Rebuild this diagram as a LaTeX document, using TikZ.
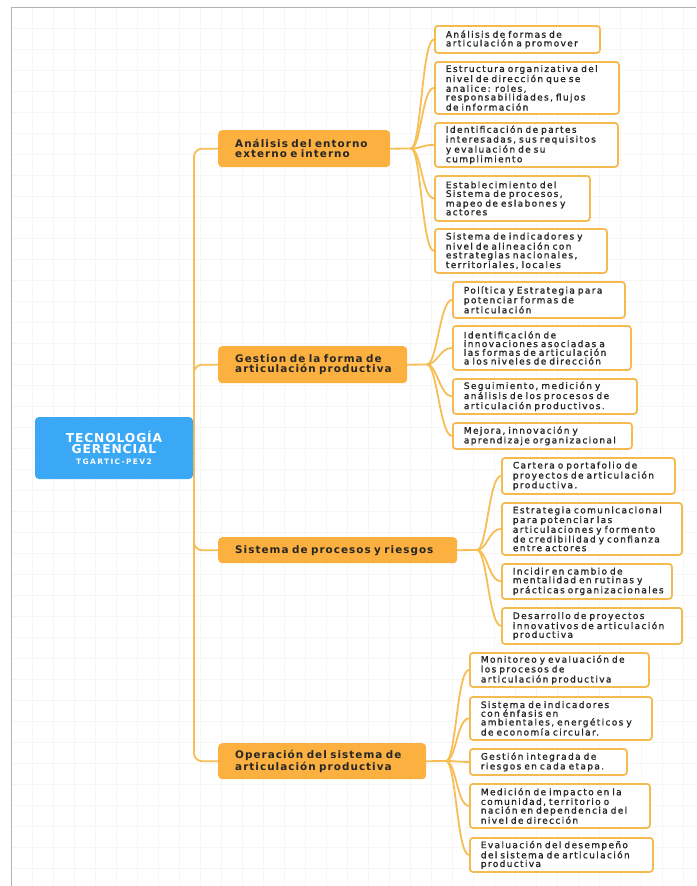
\documentclass[tikz,border=0pt]{standalone}
\usepackage{fontspec}
\setmainfont{DejaVu Sans}
\newfontfamily\leaffont[LetterSpace=15,FakeBold=1.3]{DejaVu Sans}
\newfontfamily\lonefont[LetterSpace=10]{DejaVu Sans}
\newfontfamily\rootfont[LetterSpace=7]{DejaVu Sans}
\newfontfamily\rootsub[LetterSpace=18]{DejaVu Sans}
\definecolor{rootc}{RGB}{58,168,245}
\definecolor{lonec}{RGB}{251,176,64}
\definecolor{leafc}{RGB}{245,187,80}
\definecolor{connc}{RGB}{247,190,85}
\definecolor{txtc}{RGB}{38,38,38}
\definecolor{gridc}{RGB}{246,246,246}
\definecolor{framec}{RGB}{180,180,180}
\pgfdeclarelayer{bg}
\pgfsetlayers{bg,main}
\tikzset{
  leafbox/.style={draw=leafc, line width=1.8pt, fill=white, rounded corners=3pt,
    anchor=north west, inner xsep=11pt, inner ysep=0pt, align=left, text=txtc,
    font=\leaffont\fontsize{9}{8.7}\selectfont},
  lonebox/.style={fill=lonec, rounded corners=4pt, anchor=north west,
    inner xsep=17pt, inner ysep=0pt, align=left, text=txtc,
    font=\lonefont\bfseries\fontsize{10.4}{10.2}\selectfont},
  rootbox/.style={fill=rootc, rounded corners=4pt, text=white, align=center,
    inner sep=0pt, minimum width=158pt, minimum height=62pt, text width=150pt},
  conn/.style={draw=connc, line width=1.8pt, line cap=round},
  gridline/.style={draw=gridc, line width=0.6pt},
  framel/.style={draw=framec, line width=0.9pt}
}
\begin{document}
\begin{tikzpicture}[x=1pt,y=-1pt]
\useasboundingbox (0,0) rectangle (696,886);
\begin{pgfonlayer}{bg}
\fill[white] (0,0) rectangle (696,886);
\foreach \gx in {32,53,...,696} \draw[gridline] (\gx,7) -- (\gx,886);
\foreach \gy in {28,49,...,886} \draw[gridline] (11,\gy) -- (696,\gy);
\draw[framel] (11,886) -- (11,7) -- (696,7);
\end{pgfonlayer}

% root
\node[rootbox] (root) at (114,448) {\rootfont\bfseries\fontsize{12.3}{11}\selectfont TECNOLOGÍA\\GERENCIAL\\[-1pt]\rootsub\bfseries\fontsize{7.5}{11}\selectfont TGARTIC-PEV2};

% level 1
\node[lonebox, minimum width=172pt, minimum height=37pt, text width=138pt] (A) at (218,130) {Análisis del entorno\\externo e interno};
\node[lonebox, minimum width=189pt, minimum height=37pt, text width=155pt] (B) at (218,346) {Gestion de la forma de\\articulación productiva};
\node[lonebox, minimum width=239pt, minimum height=26pt, text width=205pt] (C) at (218,537) {Sistema de procesos y riesgos};
\node[lonebox, minimum width=208pt, minimum height=36pt, text width=174pt] (D) at (218,743) {Operación del sistema de\\articulación productiva};

% leaves A
\node[leafbox, minimum width=165pt, minimum height=27pt, text width=143pt] (a1) at (434,25) {Análisis de formas de\\articulación a promover};
\node[leafbox, minimum width=184pt, minimum height=52pt, text width=162pt] (a2) at (434,61) {Estructura organizativa del\\nivel de dirección que se\\analice: roles,\\responsabilidades, flujos\\de información};
\node[leafbox, minimum width=183pt, minimum height=44pt, text width=161pt] (a3) at (434,122) {Identificación de partes\\interesadas, sus requisitos\\y evaluación de su\\cumplimiento};
\node[leafbox, minimum width=155pt, minimum height=45pt, text width=133pt] (a4) at (434,175) {Establecimiento del\\Sistema de procesos,\\mapeo de eslabones y\\actores};
\node[leafbox, minimum width=172pt, minimum height=44pt, text width=150pt] (a5) at (434,228) {Sistema de indicadores y\\nivel de alineación con\\estrategias nacionales,\\territoriales, locales};

% leaves B
\node[leafbox, minimum width=172pt, minimum height=36pt, text width=150pt] (b1) at (452,281) {Política y Estrategia para\\potenciar formas de\\articulación};
\node[leafbox, minimum width=178pt, minimum height=44pt, text width=156pt] (b2) at (452,325) {Identificación de\\innovaciones asociadas a\\las formas de articulación\\a los niveles de dirección};
\node[leafbox, minimum width=184pt, minimum height=35pt, text width=162pt] (b3) at (452,378) {Seguimiento, medición y\\análisis de los procesos de\\articulación productivos.};
\node[leafbox, minimum width=179pt, minimum height=26pt, text width=157pt] (b4) at (452,422) {Mejora, innovación y\\aprendizaje organizacional};

% leaves C
\node[leafbox, minimum width=173pt, minimum height=36pt, text width=151pt] (c1) at (501,457) {Cartera o portafolio de\\proyectos de articulación\\productiva.};
\node[leafbox, minimum width=180pt, minimum height=52pt, text width=158pt] (c2) at (501,502) {Estrategia comunicacional\\para potenciar las\\articulaciones y formento\\de credibilidad y confianza\\entre actores};
\node[leafbox, minimum width=170pt, minimum height=35pt, text width=148pt] (c3) at (501,563) {Incidir en cambio de\\mentalidad en rutinas y\\prácticas organizacionales};
\node[leafbox, minimum width=180pt, minimum height=36pt, text width=158pt] (c4) at (501,607) {Desarrollo de proyectos\\innovativos de articulación\\productiva};

% leaves D
\node[leafbox, minimum width=179pt, minimum height=34pt, text width=157pt] (d1) at (469,652) {Monitoreo y evaluación de\\los procesos de\\articulación productiva};
\node[leafbox, minimum width=182pt, minimum height=43pt, text width=160pt] (d2) at (469,696) {Sistema de indicadores\\con énfasis en\\ambientales, energéticos y\\de economía circular.};
\node[leafbox, minimum width=157pt, minimum height=26pt, text width=135pt] (d3) at (469,748) {Gestión integrada de\\riesgos en cada etapa.};
\node[leafbox, minimum width=180pt, minimum height=44pt, text width=158pt] (d4) at (469,783) {Medición de impacto en la\\comunidad, territorio o\\nación en dependencia del\\nivel de dirección};
\node[leafbox, minimum width=183pt, minimum height=34pt, text width=161pt] (d5) at (469,837) {Evaluación del desempeño\\del sistema de articulación\\productiva};

\begin{pgfonlayer}{bg}
% trunk
\coordinate (tk) at (194,448);
\foreach \n in {A,B,C,D} \draw[conn, rounded corners=8pt] (tk) |- (\n.west);
\draw[conn] (root.east) -- (tk);
% hubs
\coordinate (hA) at (411,148.5);
\coordinate (hB) at (427,364.5);
\coordinate (hC) at (477,550);
\coordinate (hD) at (446,761);
\draw[conn] (A.east) -- (hA);
\draw[conn] (B.east) -- (hB);
\draw[conn] (C.east) -- (hC);
\draw[conn] (D.east) -- (hD);
\foreach \l in {a1,a2,a3,a4,a5} \draw[conn] (hA) .. controls +(10,0) and +(-12,0) .. (\l.west);
\foreach \l in {b1,b2,b3,b4} \draw[conn] (hB) .. controls +(10,0) and +(-12,0) .. (\l.west);
\foreach \l in {c1,c2,c3,c4} \draw[conn] (hC) .. controls +(10,0) and +(-12,0) .. (\l.west);
\foreach \l in {d1,d2,d3,d4,d5} \draw[conn] (hD) .. controls +(10,0) and +(-12,0) .. (\l.west);
\end{pgfonlayer}
\end{tikzpicture}
\end{document}
